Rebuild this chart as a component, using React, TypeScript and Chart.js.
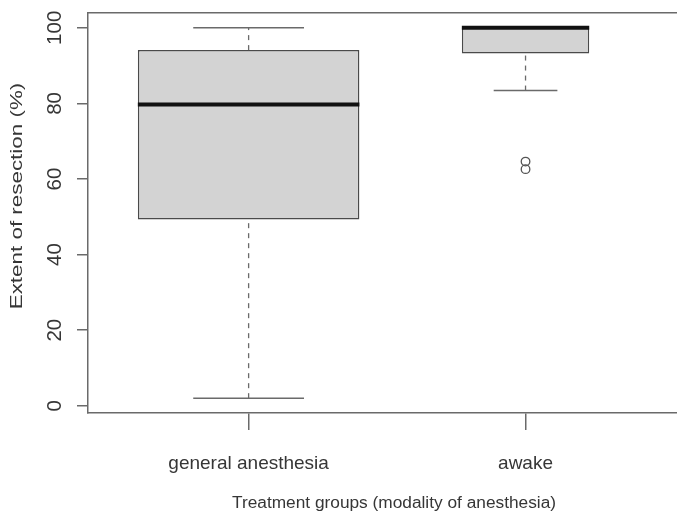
import { useEffect, useRef } from "react";
import { Chart, registerables } from "chart.js";

Chart.register(...registerables);

// Extent of resection by anesthesia modality (box-and-whisker summary)
const groups = ["general anesthesia", "awake"];
const lowerWhisker = [2, 83.4];
const q1 = [49.3, 93.2];
const median = [79.7, 100];
const q3 = [94.1, 100];
const upperWhisker = [100, 100];
const outliers: number[][] = [[], [64.6, 62.6]];
// relative box widths (proportional to sqrt of group size)
const boxWidths = [0.8, 0.46];
const yTicks = [0, 20, 40, 60, 80, 100];
const xTitle = "Treatment groups (modality of anesthesia)";
const yTitle = "Extent of resection (%)";

const FONT = '"Liberation Sans", Arial, Helvetica, sans-serif';
const TEXT = "#363636";
const AXIS = "#6a6a6a";

type Pt = { x: number; y: number };
const seg = (x0: number, y0: number, x1: number, y1: number): Pt[] => [
  { x: x0, y: y0 },
  { x: x1, y: y1 },
];

const lineBase = {
  type: "line" as const,
  pointRadius: 0,
  pointHoverRadius: 0,
  pointHitRadius: 0,
  fill: false,
  tension: 0,
  order: 1,
};

function buildDatasets() {
  const ds: any[] = [];
  groups.forEach((_, i) => {
    const cx = i + 1;
    const half = boxWidths[i] / 2;
    const capHalf = boxWidths[i] / 4;
    // box from Q1 to Q3
    ds.push({
      type: "bar",
      data: [{ x: cx, y: [q1[i], q3[i]] }],
      backgroundColor: "#d3d3d3",
      borderColor: "#4a4a4a",
      borderWidth: 1.5,
      borderSkipped: false,
      barPercentage: boxWidths[i],
      categoryPercentage: 1,
      grouped: false,
      order: 3,
    });
    // whiskers (dashed)
    if (lowerWhisker[i] < q1[i]) {
      ds.push({
        ...lineBase,
        data: seg(cx, lowerWhisker[i], cx, q1[i]),
        borderColor: AXIS,
        borderWidth: 1.3,
        borderDash: [5, 5],
        order: 2,
      });
    }
    if (upperWhisker[i] > q3[i]) {
      ds.push({
        ...lineBase,
        data: seg(cx, q3[i], cx, upperWhisker[i]),
        borderColor: AXIS,
        borderWidth: 1.3,
        borderDash: [5, 5],
        order: 2,
      });
    }
    // whisker caps
    ds.push({
      ...lineBase,
      data: seg(cx - capHalf, lowerWhisker[i], cx + capHalf, lowerWhisker[i]),
      borderColor: AXIS,
      borderWidth: 1.5,
    });
    if (upperWhisker[i] > q3[i]) {
      ds.push({
        ...lineBase,
        data: seg(cx - capHalf, upperWhisker[i], cx + capHalf, upperWhisker[i]),
        borderColor: AXIS,
        borderWidth: 1.5,
      });
    }
    // median
    ds.push({
      ...lineBase,
      data: seg(cx - half, median[i], cx + half, median[i]),
      borderColor: "#111111",
      borderWidth: 4,
      order: 0,
    });
    // outliers
    if (outliers[i].length) {
      ds.push({
        type: "scatter",
        data: outliers[i].map((v) => ({ x: cx, y: v })),
        pointStyle: "circle",
        pointRadius: 4.3,
        pointBorderWidth: 1.3,
        pointBorderColor: "#555555",
        pointBackgroundColor: "rgba(0,0,0,0)",
        order: 0,
      });
    }
  });
  return ds;
}

// Rotated y-axis title, drawn a little elongated along its baseline
const yTitlePlugin = {
  id: "yTitleText",
  afterDraw(chart: any) {
    const { ctx } = chart;
    ctx.save();
    ctx.translate(18, 196);
    ctx.rotate(-Math.PI / 2);
    ctx.scale(1.4, 1);
    ctx.font = `16px ${FONT}`;
    ctx.fillStyle = TEXT;
    ctx.textAlign = "center";
    ctx.textBaseline = "middle";
    ctx.fillText(yTitle, 0, 0);
    ctx.restore();
  },
};

export default function App() {
  const ref = useRef<HTMLCanvasElement | null>(null);

  useEffect(() => {
    if (!ref.current) return;
    const xMin = 0.42;
    const xMax = 2.63;
    const chart = new Chart(ref.current, {
      type: "bar",
      data: { datasets: buildDatasets() },
      plugins: [yTitlePlugin],
      options: {
        animation: false,
        responsive: false,
        devicePixelRatio: 1,
        layout: { autoPadding: false, padding: { top: 13, right: 0, bottom: 0, left: 0 } },
        plugins: {
          legend: { display: false },
          tooltip: { enabled: false },
        },
        scales: {
          x: {
            type: "linear",
            position: "bottom",
            offset: false,
            min: xMin,
            max: xMax,
            afterBuildTicks: (s: any) => {
              s.ticks = groups.map((_, i) => ({ value: i + 1 }));
            },
            afterFit: (s: any) => {
              s.height = 103;
              s.paddingLeft = 0;
              s.paddingRight = 0;
            },
            ticks: {
              autoSkip: false,
              maxRotation: 0,
              padding: 22,
              color: TEXT,
              font: { family: FONT, size: 19 },
              callback: (v: any) => groups[Number(v) - 1] ?? "",
            },
            grid: {
              offset: false,
              drawOnChartArea: false,
              drawTicks: true,
              tickLength: 17,
              color: AXIS,
              lineWidth: 1.5,
            },
            border: { display: true, color: AXIS, width: 1.5 },
            title: {
              display: true,
              text: xTitle,
              color: TEXT,
              font: { family: FONT, size: 17.3 },
              padding: { top: 0, bottom: 2 },
            },
          },
          xTop: {
            type: "linear",
            axis: "x",
            position: "top",
            offset: false,
            min: xMin,
            max: xMax,
            ticks: { display: false },
            grid: { display: true, offset: false, drawOnChartArea: false, drawTicks: false },
            border: { display: true, color: AXIS, width: 1.5 },
            afterFit: (s: any) => {
              s.height = 0;
              s.paddingLeft = 0;
              s.paddingRight = 0;
            },
          },
          y: {
            type: "linear",
            position: "left",
            min: -1.92,
            max: 103.92,
            afterBuildTicks: (s: any) => {
              s.ticks = yTicks.map((v) => ({ value: v }));
            },
            afterFit: (s: any) => {
              s.width = 88;
              s.paddingTop = 0;
              s.paddingBottom = 0;
            },
            ticks: {
              minRotation: 90,
              maxRotation: 90,
              crossAlign: "center",
              padding: 5,
              color: TEXT,
              font: { family: FONT, size: 20.5 },
            },
            grid: {
              drawOnChartArea: false,
              drawTicks: true,
              tickLength: 11,
              color: AXIS,
              lineWidth: 1.5,
            },
            border: { display: true, color: AXIS, width: 1.5 },
          },
        },
      } as any,
    });
    return () => chart.destroy();
  }, []);

  return (
    <div
      style={{
        position: "fixed",
        left: 0,
        top: 0,
        width: 677,
        height: 516,
        overflow: "hidden",
        background: "#ffffff",
      }}
    >
      <canvas ref={ref} width={700} height={516} style={{ display: "block" }} />
    </div>
  );
}
